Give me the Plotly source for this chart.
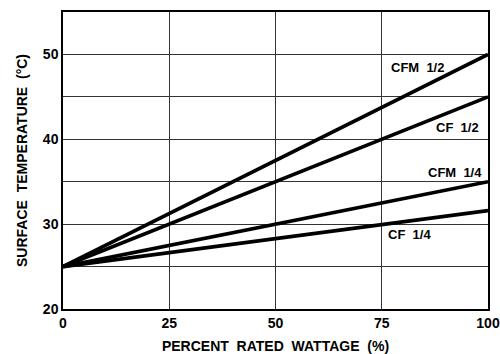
import plotly.graph_objects as go

x_vals = [0, 100]
series_names = ["CFM 1/2", "CF 1/2", "CFM 1/4", "CF 1/4"]
start_temp = [25, 25, 25, 25]
end_temp = [50, 45, 35, 31.6]
label_x = [83.3, 92.9, 92.2, 81.6]
label_y = [48.5, 41.4, 36.1, 28.8]
x_ticks = [0, 25, 50, 75, 100]
y_ticks = [20, 30, 40, 50]

font_fam = "Liberation Sans, Arial, sans-serif"

fig = go.Figure()
for name, s, e in zip(series_names, start_temp, end_temp):
    fig.add_trace(go.Scatter(x=x_vals, y=[s, e], mode="lines", name=name,
                             line=dict(color="black", width=3.7), showlegend=False,
                             hoverinfo="skip"))

for name, lx, ly in zip(series_names, label_x, label_y):
    fig.add_annotation(x=lx, y=ly, text=name.replace(" ", "  "), showarrow=False,
                       font=dict(family=font_fam, size=13, color="black", weight="bold"),
                       xanchor="center", yanchor="middle")

fig.update_layout(
    width=500, height=354,
    margin=dict(l=63, r=12, t=12, b=45),
    paper_bgcolor="white", plot_bgcolor="white",
    font=dict(family=font_fam, size=12, color="black", weight="bold"),
)
fig.update_xaxes(range=[0, 100], tickvals=x_ticks, ticks="", showgrid=True,
                 gridcolor="#333333", gridwidth=1, showline=True, linecolor="black",
                 linewidth=1.5, mirror=True, zeroline=False, automargin=False,
                 tickfont=dict(size=14, weight="bold"),
                 title=dict(text="PERCENT  RATED  WATTAGE  (%)", standoff=12,
                            font=dict(size=14, weight="bold")))
fig.update_yaxes(range=[20, 55], tickvals=[20, 25, 30, 35, 40, 45, 50],
                 ticktext=["20", "", "30", "", "40", "", "50"], ticks="",
                 showgrid=True, gridcolor="#333333", gridwidth=1, showline=True,
                 linecolor="black", linewidth=1.5, mirror=True, zeroline=False,
                 automargin=False,
                 tickfont=dict(size=14, weight="bold"),
                 title=dict(text="SURFACE  TEMPERATURE  (°C)", standoff=12,
                            font=dict(size=14, weight="bold")))

fig.write_html("out.html", config={"displayModeBar": False},
               post_script="document.body.style.margin='0';")
